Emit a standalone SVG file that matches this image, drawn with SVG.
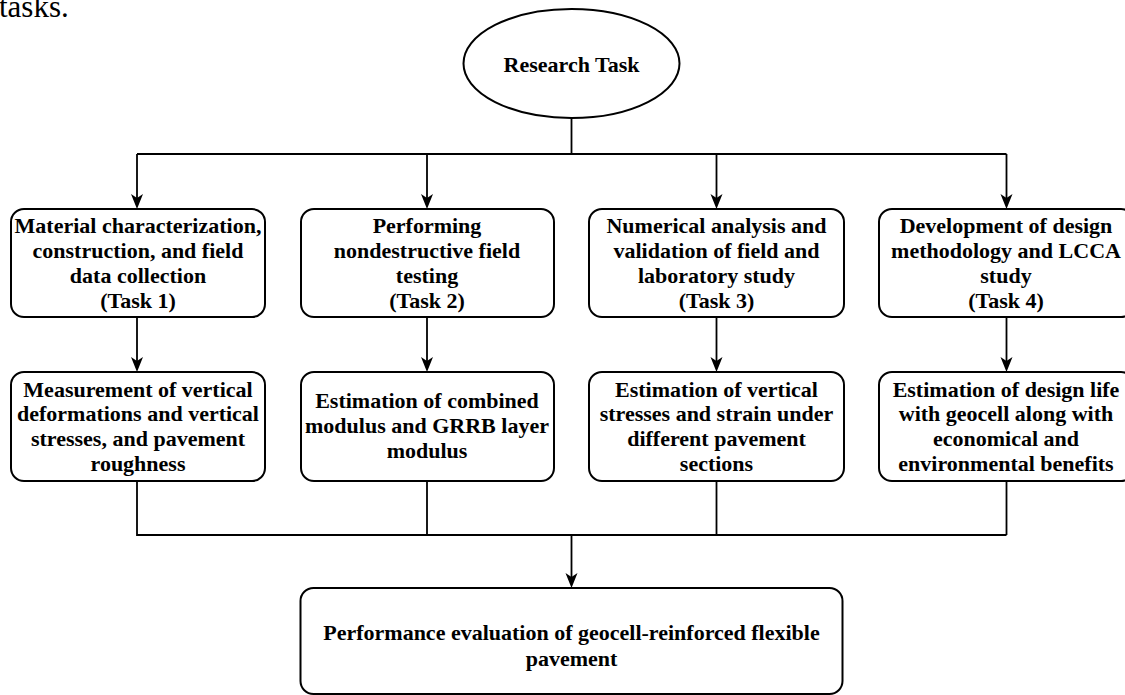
<svg xmlns="http://www.w3.org/2000/svg" width="1125" height="695" viewBox="0 0 1125 695">
<style>
.box{fill:#fff;stroke:#000;stroke-width:2}
.t{font-family:"Times New Roman",Times,"Liberation Serif","Nimbus Roman","DejaVu Serif",serif;font-weight:bold;font-size:22px;text-anchor:middle;fill:#000}
.pg{font-family:"Times New Roman",Times,"Liberation Serif","Nimbus Roman","DejaVu Serif",serif;font-size:31px;fill:#000}
.ln{fill:none;stroke:#000;stroke-width:1.8}
</style>
<rect width="1125" height="695" fill="#fff"/>
<text class="pg" x="-1" y="17">tasks.</text>

<g id="connectors">
<path class="ln" d="M571.5,118 V154"/>
<path class="ln" d="M137,154 H1006.5"/>
<path class="ln" d="M137,154 V200"/>
<path class="ln" d="M427,154 V200"/>
<path class="ln" d="M716.5,154 V200"/>
<path class="ln" d="M1006.5,154 V200"/>
<path class="ln" d="M137,317 V363"/>
<path class="ln" d="M427,317 V363"/>
<path class="ln" d="M716.5,317 V363"/>
<path class="ln" d="M1006.5,317 V363"/>
<path class="ln" d="M137,481 V535 H1006.5"/>
<path class="ln" d="M427,481 V535"/>
<path class="ln" d="M716.5,481 V535"/>
<path class="ln" d="M1006.5,481 V535"/>
<path class="ln" d="M571.5,535 V579"/>
<g fill="#000">
<path d="M137,209 l-6,-15 l6,4 l6,-4 z"/>
<path d="M427,209 l-6,-15 l6,4 l6,-4 z"/>
<path d="M716.5,209 l-6,-15 l6,4 l6,-4 z"/>
<path d="M1006.5,209 l-6,-15 l6,4 l6,-4 z"/>
<path d="M137,372 l-6,-15 l6,4 l6,-4 z"/>
<path d="M427,372 l-6,-15 l6,4 l6,-4 z"/>
<path d="M716.5,372 l-6,-15 l6,4 l6,-4 z"/>
<path d="M1006.5,372 l-6,-15 l6,4 l6,-4 z"/>
<path d="M571.5,588 l-6,-15 l6,4 l6,-4 z"/>
</g>
</g>

<g id="research-task">
<ellipse class="box" cx="571.5" cy="63.5" rx="108" ry="54.5"/>
<text class="t" x="571.5" y="72">Research Task</text>
</g>

<g id="task1">
<rect class="box" x="11" y="209" width="254" height="108" rx="13"/>
<text class="t" x="138" y="233">Material characterization,</text>
<text class="t" x="138" y="258">construction, and field</text>
<text class="t" x="138" y="283">data collection</text>
<text class="t" x="138" y="308">(Task 1)</text>
</g>

<g id="task2">
<rect class="box" x="301" y="209" width="253" height="108" rx="13"/>
<text class="t" x="427" y="233">Performing</text>
<text class="t" x="427" y="258">nondestructive field</text>
<text class="t" x="427" y="283">testing</text>
<text class="t" x="427" y="308">(Task 2)</text>
</g>

<g id="task3">
<rect class="box" x="589" y="209" width="255" height="108" rx="13"/>
<text class="t" x="716.5" y="233">Numerical analysis and</text>
<text class="t" x="716.5" y="258">validation of field and</text>
<text class="t" x="716.5" y="283">laboratory study</text>
<text class="t" x="716.5" y="308">(Task 3)</text>
</g>

<g id="task4">
<rect class="box" x="879" y="209" width="255" height="108" rx="13"/>
<text class="t" x="1006" y="233">Development of design</text>
<text class="t" x="1006" y="258">methodology and LCCA</text>
<text class="t" x="1006" y="283">study</text>
<text class="t" x="1006" y="308">(Task 4)</text>
</g>

<g id="result1">
<rect class="box" x="11" y="372" width="254" height="109" rx="13"/>
<text class="t" x="138" y="397">Measurement of vertical</text>
<text class="t" x="138" y="421">deformations and vertical</text>
<text class="t" x="138" y="446">stresses, and pavement</text>
<text class="t" x="138" y="471">roughness</text>
</g>

<g id="result2">
<rect class="box" x="301" y="372" width="253" height="109" rx="13"/>
<text class="t" x="427" y="408">Estimation of combined</text>
<text class="t" x="427" y="433">modulus and GRRB layer</text>
<text class="t" x="427" y="458">modulus</text>
</g>

<g id="result3">
<rect class="box" x="589" y="372" width="255" height="109" rx="13"/>
<text class="t" x="716.5" y="397">Estimation of vertical</text>
<text class="t" x="716.5" y="421">stresses and strain under</text>
<text class="t" x="716.5" y="446">different pavement</text>
<text class="t" x="716.5" y="471">sections</text>
</g>

<g id="result4">
<rect class="box" x="879" y="372" width="255" height="109" rx="13"/>
<text class="t" x="1006" y="397">Estimation of design life</text>
<text class="t" x="1006" y="421">with geocell along with</text>
<text class="t" x="1006" y="446">economical and</text>
<text class="t" x="1006" y="471">environmental benefits</text>
</g>

<g id="final">
<rect class="box" x="300.5" y="588" width="542" height="106" rx="13"/>
<text class="t" x="571.5" y="640">Performance evaluation of geocell-reinforced flexible</text>
<text class="t" x="571.5" y="666">pavement</text>
</g>
</svg>
